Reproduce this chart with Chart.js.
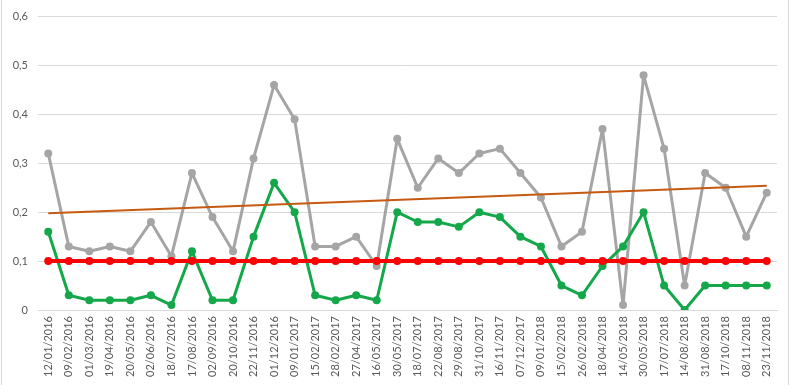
<!DOCTYPE html>
<html>
<head>
<meta charset="utf-8">
<script src="https://cdn.jsdelivr.net/npm/chart.js@4"></script>
<style>
  body { margin: 0; background: #fff; }
  #wrap { position: relative; width: 795px; height: 385px; }
  #frame { position: absolute; left: 1px; top: -2px; width: 788px; height: 390px; border: 1px solid #d9d9d9; box-sizing: border-box; }
</style>
</head>
<body>
<div id="wrap">
  <div id="frame"></div>
  <canvas id="chart" width="795" height="385"></canvas>
</div>
<script>
// dates on the x axis
const dates = [
  '12/01/2016', '09/02/2016', '01/03/2016', '19/04/2016', '20/05/2016', '02/06/2016',
  '18/07/2016', '17/08/2016', '02/09/2016', '20/10/2016', '22/11/2016', '01/12/2016',
  '09/01/2017', '15/02/2017', '28/02/2017', '27/04/2017', '16/05/2017', '30/05/2017',
  '18/07/2017', '22/08/2017', '29/08/2017', '31/10/2017', '16/11/2017', '07/12/2017',
  '09/01/2018', '15/02/2018', '26/02/2018', '18/04/2018', '14/05/2018', '30/05/2018',
  '17/07/2018', '14/08/2018', '31/08/2018', '17/10/2018', '08/11/2018', '23/11/2018'
];

// grey series
const greyValues = [
  0.32, 0.13, 0.12, 0.13, 0.12, 0.18, 0.11, 0.28, 0.19, 0.12, 0.31, 0.46,
  0.39, 0.13, 0.13, 0.15, 0.09, 0.35, 0.25, 0.31, 0.28, 0.32, 0.33, 0.28,
  0.23, 0.13, 0.16, 0.37, 0.01, 0.48, 0.33, 0.05, 0.28, 0.25, 0.15, 0.24
];

// green series
const greenValues = [
  0.16, 0.03, 0.02, 0.02, 0.02, 0.03, 0.01, 0.12, 0.02, 0.02, 0.15, 0.26,
  0.20, 0.03, 0.02, 0.03, 0.02, 0.20, 0.18, 0.18, 0.17, 0.20, 0.19, 0.15,
  0.13, 0.05, 0.03, 0.09, 0.13, 0.20, 0.05, 0.00, 0.05, 0.05, 0.05, 0.05
];

// red limit line
const limitValues = dates.map(() => 0.1);

// trend line ends
const trendStart = 0.198;
const trendEnd = 0.254;

const yTicks = [0, 0.1, 0.2, 0.3, 0.4, 0.5, 0.6];

const tickFont = { family: 'Lato, "Open Sans", sans-serif', size: 11 };

new Chart(document.getElementById('chart'), {
  type: 'line',
  data: {
    labels: dates,
    datasets: [
      {
        label: 'trend',
        data: [{ x: dates[0], y: trendStart }, { x: dates[dates.length - 1], y: trendEnd }],
        borderColor: '#c55a11',
        borderWidth: 2,
        pointRadius: 0,
        order: 1
      },
      {
        label: 'limit',
        data: limitValues,
        borderColor: '#ff0000',
        backgroundColor: '#ff0000',
        borderWidth: 4,
        pointRadius: 4,
        pointBorderWidth: 0,
        order: 0
      },
      {
        label: 'green',
        data: greenValues,
        borderColor: '#14a84a',
        backgroundColor: '#14a84a',
        borderWidth: 3,
        borderJoinStyle: 'round',
        pointRadius: 4,
        pointBorderWidth: 0,
        order: 2
      },
      {
        label: 'grey',
        data: greyValues,
        borderColor: '#a5a5a5',
        backgroundColor: '#a5a5a5',
        borderWidth: 3,
        borderJoinStyle: 'round',
        pointRadius: 4,
        pointBorderWidth: 0,
        order: 3
      }
    ]
  },
  options: {
    responsive: false,
    animation: false,
    layout: { padding: { left: 0, right: 18, top: 10, bottom: 0 } },
    plugins: {
      legend: { display: false },
      tooltip: { enabled: false }
    },
    scales: {
      x: {
        offset: true,
        grid: { display: false, drawTicks: false },
        border: { color: '#d9d9d9', width: 1 },
        ticks: {
          color: '#595959',
          font: tickFont,
          minRotation: 90,
          maxRotation: 90,
          autoSkip: false,
          padding: 6
        },
        afterFit: (scale) => { scale.height = 75; }
      },
      y: {
        min: 0,
        max: 0.6,
        afterBuildTicks: (scale) => { scale.ticks = yTicks.map(v => ({ value: v })); },
        grid: { color: '#d9d9d9', drawTicks: false },
        border: { display: false },
        ticks: {
          color: '#595959',
          font: tickFont,
          padding: 10,
          callback: (v) => v === 0 ? '0' : v.toFixed(1).replace('.', ',')
        },
        afterFit: (scale) => { scale.width = 38; }
      }
    }
  }
});
</script>
</body>
</html>
